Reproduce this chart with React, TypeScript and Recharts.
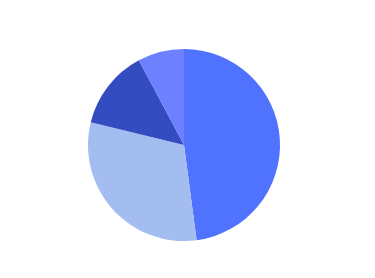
import React from 'react';
import { PieChart, Pie, Cell } from 'recharts';

const categories = ['A', 'B', 'C', 'D'];
const values = [47.9, 30.9, 13.4, 7.8];
const colors = ['#4f72ff', '#a4bdf0', '#334cbf', '#6d80ff'];

const data = categories.map((name, i) => ({ name, value: values[i] }));

const App: React.FC = () => {
    return (
        <div style={{ width: 360, height: 262 }}>
            <PieChart width={360} height={262}>
                <Pie
                    data={data}
                    dataKey="value"
                    nameKey="name"
                    cx={171}
                    cy={132}
                    outerRadius={96}
                    startAngle={90}
                    endAngle={-270}
                    stroke="none"
                    isAnimationActive={false}
                >
                    {data.map((d, i) => (
                        <Cell key={d.name} fill={colors[i]} />
                    ))}
                </Pie>
            </PieChart>
        </div>
    );
};

export default App;
